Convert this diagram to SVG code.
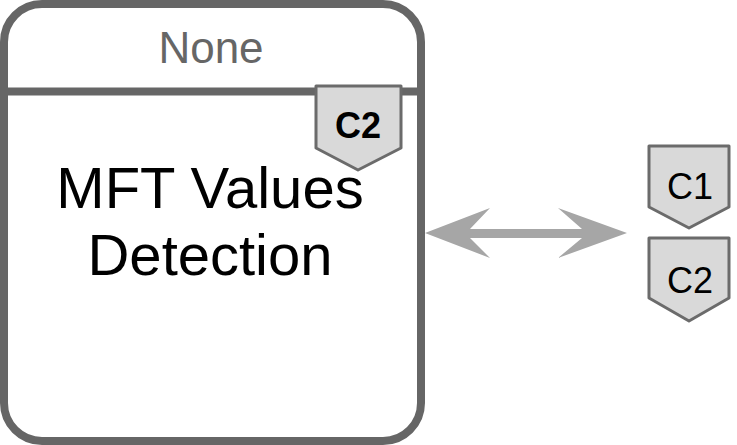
<svg xmlns="http://www.w3.org/2000/svg" width="737" height="445" viewBox="0 0 737 445">
<style>
.frame{fill:#ffffff;stroke:#666666;stroke-width:8}
.badge{fill:#d9d9d9;stroke:#6b6b6b;stroke-width:3;stroke-linejoin:round}
.t{font-family:"Liberation Sans",Arial,sans-serif;text-anchor:middle}
</style>
<g id="node-main">
<rect class="frame" x="4" y="4" width="417" height="437" rx="38" ry="38"/>
<line x1="0" y1="91.5" x2="421" y2="91.5" stroke="#666666" stroke-width="8"/>
<text class="t" x="211" y="63" font-size="44" fill="#666666">None</text>
<text class="t" x="210" y="208" font-size="58" fill="#000000">MFT Values</text>
<text class="t" x="210" y="275" font-size="58" fill="#000000">Detection</text>
</g>
<g id="badge-inner-c2">
<path class="badge" d="M316 86 H401 V148 L358 170 L316 148 Z"/>
<text class="t" x="358" y="138" font-size="36" font-weight="bold" fill="#000000">C2</text>
</g>
<g id="badge-c1">
<path class="badge" d="M649 146 H729 V207 L689 228 L649 207 Z"/>
<text class="t" x="690" y="199" font-size="36" fill="#000000">C1</text>
</g>
<g id="badge-c2">
<path class="badge" d="M649 238 H729 V298 L689 321 L649 298 Z"/>
<text class="t" x="690" y="293" font-size="36" fill="#000000">C2</text>
</g>
<g id="connectors">
<path d="M425 233 L490 208 L470 229 H582 L558 208 L627 233 L558 258 L582 238 H470 L490 258 Z" fill="#a6a6a6"/>
</g>
</svg>
